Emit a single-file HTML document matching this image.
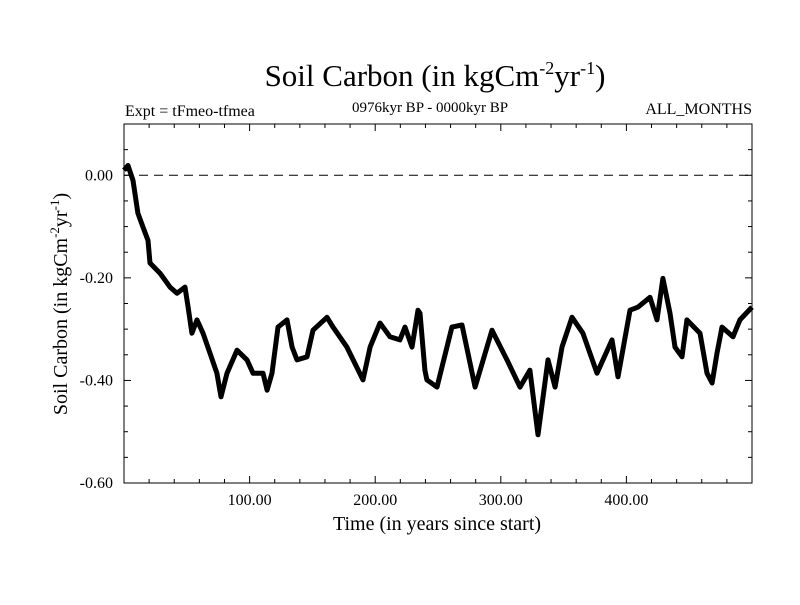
<!DOCTYPE html>
<html><head><meta charset="utf-8"><style>
body{margin:0;background:#fff}
svg text{font-family:"Liberation Serif",serif;fill:#000}
</style></head><body>
<svg id="chart" width="800" height="600" xmlns="http://www.w3.org/2000/svg">
<rect width="800" height="600" fill="#fff"/>
<text x="435" y="86" font-size="31" text-anchor="middle">Soil Carbon (in kgCm<tspan font-size="18" dy="-12">-2</tspan><tspan dy="12">yr</tspan><tspan font-size="18" dy="-12">-1</tspan><tspan dy="12">)</tspan></text>
<text x="125" y="116" font-size="16">Expt = tFmeo-tfmea</text>
<text x="430" y="112" font-size="15" text-anchor="middle">0976kyr BP - 0000kyr BP</text>
<text x="752" y="114" font-size="16" text-anchor="end">ALL_MONTHS</text>
<text transform="translate(67,304) rotate(-90)" font-size="20" text-anchor="middle">Soil Carbon (in kgCm<tspan font-size="13" dy="-8">-2</tspan><tspan dy="8">yr</tspan><tspan font-size="13" dy="-8">-1</tspan><tspan dy="8">)</tspan></text>
<text x="437" y="530" font-size="20" text-anchor="middle">Time (in years since start)</text>
<g id="axes"></g>
<g id="series"></g>
<rect x="124" y="124" width="628" height="359" fill="none" stroke="#000" stroke-width="1"/>
</svg>
<script>
const years=[0,3.2,7.2,11.1,15.1,19.1,20.7,28.7,36.6,42.2,48.6,51.0,54.1,58.1,62.9,68.5,74.0,77.2,82.0,90.0,97.9,102.7,110.7,113.9,117.8,122.6,129.8,133.8,137.7,145.7,150.5,161.6,166.4,177.5,190.3,195.9,203.8,211.8,219.7,223.7,229.3,234.1,235.7,239.6,241.2,249.2,261.1,269.1,279.5,293.0,304.9,315.3,323.2,329.6,337.6,343.2,348.7,356.7,365.4,376.6,388.5,393.3,402.9,409.2,418.8,424.4,429.1,434.7,438.7,444.3,448.2,458.6,464.2,468.2,472.1,476.1,484.9,490.4,500];
const carbon=[0.010,0.019,-0.010,-0.074,-0.101,-0.127,-0.171,-0.191,-0.218,-0.230,-0.218,-0.257,-0.308,-0.282,-0.308,-0.347,-0.386,-0.432,-0.386,-0.341,-0.360,-0.386,-0.386,-0.419,-0.386,-0.296,-0.282,-0.335,-0.360,-0.354,-0.302,-0.277,-0.296,-0.335,-0.399,-0.335,-0.288,-0.315,-0.321,-0.296,-0.335,-0.263,-0.269,-0.380,-0.399,-0.413,-0.296,-0.292,-0.413,-0.302,-0.360,-0.413,-0.380,-0.506,-0.360,-0.413,-0.335,-0.277,-0.308,-0.386,-0.321,-0.393,-0.263,-0.257,-0.238,-0.282,-0.201,-0.269,-0.335,-0.354,-0.282,-0.308,-0.386,-0.405,-0.347,-0.296,-0.315,-0.282,-0.257];
const xTickValues=[100,200,300,400];
const xTickLabels=["100.00","200.00","300.00","400.00"];
const yTickValues=[0,-0.2,-0.4,-0.6];
const yTickLabels=["0.00","-0.20","-0.40","-0.60"];
const X0=124,X1=752,Y0=124,Y1=483,XMIN=0,XMAX=500,YMIN=-0.6,YMAX=0.1;
const sx=v=>X0+(v-XMIN)/(XMAX-XMIN)*(X1-X0);
const sy=v=>Y0+(YMAX-v)/(YMAX-YMIN)*(Y1-Y0);
const NS="http://www.w3.org/2000/svg";
const axes=document.getElementById('axes'),series=document.getElementById('series');
function mk(t,a,p){const e=document.createElementNS(NS,t);for(const k in a)e.setAttribute(k,a[k]);p.appendChild(e);return e;}
for(let v=20;v<XMAX;v+=20){const x=sx(v),major=v%100===0,L=major?7:4;
const t1=mk('line',{x1:x,x2:x,y1:Y1,y2:Y1-L,stroke:'#000'},axes);


const t2=mk('line',{x1:x,x2:x,y1:Y0,y2:Y0+L,stroke:'#000'},axes);

}
xTickValues.forEach((v,i)=>{const t=mk('text',{x:sx(v),y:505,'font-size':16,'text-anchor':'middle'},axes);t.textContent=xTickLabels[i];

});
for(let k=-12;k<=2;k++){const v=k*0.05,y=sy(v),major=k%4===0,L=major?7:4;
const t1=mk('line',{x1:X0,x2:X0+L,y1:y,y2:y,stroke:'#000'},axes);


const t2=mk('line',{x1:X1,x2:X1-L,y1:y,y2:y,stroke:'#000'},axes);

}
yTickValues.forEach((v,i)=>{const t=mk('text',{x:113,y:sy(v)+5,'font-size':16,'text-anchor':'end'},axes);t.textContent=yTickLabels[i];

});
const zl=mk('line',{x1:X0,x2:X1,y1:sy(0),y2:sy(0),stroke:'#000','stroke-dasharray':'9,6'},axes);


const d=years.map((t,i)=>(i?'L':'M')+sx(t).toFixed(1)+','+sy(carbon[i]).toFixed(1)).join(' ');
const p=mk('path',{d:d,fill:'none',stroke:'#000','stroke-width':5,'stroke-linejoin':'round'},series);


</script>
</body></html>
